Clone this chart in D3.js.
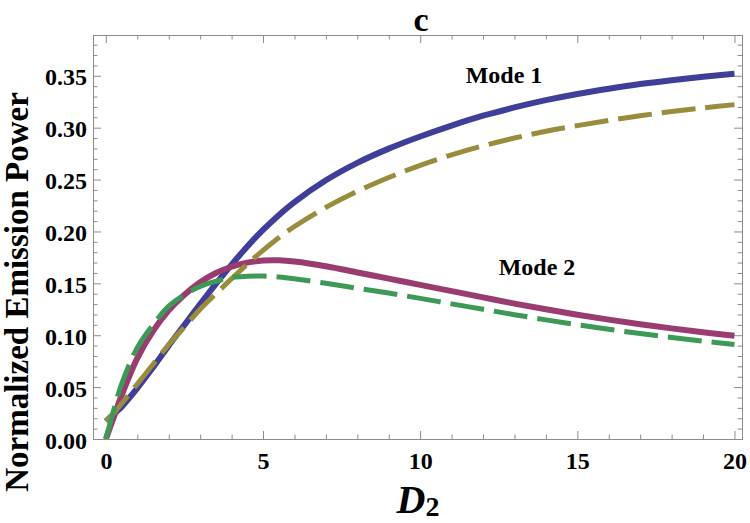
<!DOCTYPE html>
<html>
<head>
<meta charset="utf-8">
<script src="https://cdn.jsdelivr.net/npm/d3@7"></script>
<style>
  body { margin: 0; background: #fff; }
  svg text { font-family: "Liberation Serif", "Times New Roman", serif; font-weight: bold; fill: #000; }
</style>
</head>
<body>
<svg id="chart" width="750" height="523"></svg>
<script>
// D2 grid shared by all curves
const d2 = [0, 0.25, 0.5, 1, 1.5, 2, 2.5, 3, 3.5, 4, 4.5, 5, 5.5, 6, 7, 8, 9, 10, 11, 12, 13, 14, 15, 16, 17, 18, 19, 20];

// Mode 1 (solid) and its dashed companion
const mode1Solid = [0.017, 0.024, 0.031, 0.049, 0.069, 0.090, 0.110, 0.130, 0.1495, 0.168, 0.1856, 0.2015, 0.2157, 0.2283, 0.2493, 0.2661, 0.2798, 0.2915, 0.3020, 0.3115, 0.3195, 0.3265, 0.3325, 0.3375, 0.3420, 0.3457, 0.3490, 0.3520];
const mode1Dashed = [0.017, 0.025, 0.034, 0.053, 0.072, 0.091, 0.108, 0.125, 0.140, 0.1545, 0.1686, 0.1818, 0.1940, 0.2048, 0.2232, 0.2387, 0.2520, 0.2637, 0.2738, 0.2825, 0.2900, 0.2965, 0.3020, 0.3070, 0.3115, 0.3155, 0.3190, 0.3222];

// Mode 2 (solid) and its dashed companion
const mode2Solid = [0, 0.021, 0.042, 0.078, 0.104, 0.124, 0.139, 0.151, 0.160, 0.166, 0.1700, 0.1720, 0.1722, 0.1710, 0.1665, 0.1605, 0.1545, 0.1485, 0.1425, 0.1365, 0.1305, 0.1250, 0.1198, 0.1150, 0.1106, 0.1066, 0.1029, 0.0995];
const mode2Dashed = [0, 0.028, 0.053, 0.088, 0.110, 0.128, 0.139, 0.147, 0.152, 0.1558, 0.1568, 0.1570, 0.1562, 0.1545, 0.1500, 0.1453, 0.1406, 0.1355, 0.1302, 0.1250, 0.1198, 0.1148, 0.1101, 0.1057, 0.1016, 0.0978, 0.0943, 0.0910];

const xMajor = [0, 5, 10, 15, 20];
const yMajor = [0, 0.05, 0.10, 0.15, 0.20, 0.25, 0.30, 0.35];

const svg = d3.select("svg#chart");

const frame = { left: 93, right: 742, top: 35, bottom: 439 };
const w = frame.right - frame.left, h = frame.bottom - frame.top;

var x = d3.scaleLinear().domain([-0.41, 20.24]).range([0, w]);
var y = d3.scaleLinear().domain([0, 0.3893]).range([h, 0]);

const g = svg.append("g").attr("transform", `translate(${frame.left},${frame.top})`);

g.append("clipPath").attr("id", "clip")
  .append("rect").attr("width", w).attr("height", h);

// minor ticks
var xMinor = d3.range(0, 21, 1).filter(d => d % 5 !== 0);
var yMinor = d3.range(1, 39).map(d => d / 100).filter(d => Math.round(d * 100) % 5 !== 0);

function styleAxis(sel) {
  sel.selectAll("path.domain").attr("stroke", "#8c8c8c");
  sel.selectAll(".tick line").attr("stroke", "#8c8c8c");
}

// bottom axis with labels
g.append("g").attr("transform", `translate(0,${h})`)
  .call(d3.axisBottom(x).tickValues(xMajor).tickSize(-8).tickPadding(13).tickFormat(d3.format("d")))
  .call(styleAxis)
  .selectAll("text").attr("font-size", 24).style("font-family", "Liberation Serif").style("font-weight", "bold");
g.append("g").attr("transform", `translate(0,${h})`)
  .call(d3.axisBottom(x).tickValues(xMinor).tickSize(-4.5).tickFormat(""))
  .call(styleAxis);

// top axis ticks only
g.append("g")
  .call(d3.axisTop(x).tickValues(xMajor).tickSize(-8).tickFormat(""))
  .call(styleAxis);
g.append("g")
  .call(d3.axisTop(x).tickValues(xMinor).tickSize(-4.5).tickFormat(""))
  .call(styleAxis);

// left axis with labels
g.append("g")
  .call(d3.axisLeft(y).tickValues(yMajor).tickSize(-8).tickPadding(6).tickFormat(d3.format(".2f")))
  .call(styleAxis)
  .selectAll("text").attr("font-size", 24).attr("dy", "0.38em").style("font-family", "Liberation Serif").style("font-weight", "bold");
g.append("g")
  .call(d3.axisLeft(y).tickValues(yMinor).tickSize(-4.5).tickFormat(""))
  .call(styleAxis);

// right axis ticks only
g.append("g").attr("transform", `translate(${w},0)`)
  .call(d3.axisRight(y).tickValues(yMajor).tickSize(-8).tickFormat(""))
  .call(styleAxis);
g.append("g").attr("transform", `translate(${w},0)`)
  .call(d3.axisRight(y).tickValues(yMinor).tickSize(-4.5).tickFormat(""))
  .call(styleAxis);

// curves: solid ones first, dashed drawn on top
var series = [
  { values: mode1Solid, color: "#3f3f99", dash: null, width: 6 },
  { values: mode2Solid, color: "#993d71", dash: null, width: 6 },
  { values: mode1Dashed, color: "#998c3d", dash: "34,10", width: 5 },
  { values: mode2Dashed, color: "#3d9956", dash: "34,10", width: 5 }
];

var line = d3.line()
  .x((d, i) => x(d2[i]))
  .y(d => y(d))
  .curve(d3.curveCatmullRom.alpha(0.5));

g.append("g").attr("clip-path", "url(#clip)")
  .selectAll("path.curve")
  .data(series)
  .join("path")
  .attr("class", "curve")
  .attr("fill", "none")
  .attr("stroke", d => d.color)
  .attr("stroke-width", d => d.width)
  .attr("stroke-dasharray", d => d.dash)
  .attr("d", d => line(d.values));

// labels
svg.append("text").attr("x", 421).attr("y", 31).attr("text-anchor", "middle")
  .attr("font-size", 34).text("c");

svg.append("text").attr("x", 504).attr("y", 83).attr("text-anchor", "middle")
  .attr("font-size", 24).text("Mode 1");
svg.append("text").attr("x", 537).attr("y", 275).attr("text-anchor", "middle")
  .attr("font-size", 24).text("Mode 2");

svg.append("text")
  .attr("transform", "translate(28,292) rotate(-90)")
  .attr("text-anchor", "middle")
  .attr("font-size", 33)
  .text("Normalized Emission Power");

var xl = svg.append("text").attr("x", 418).attr("y", 513).attr("text-anchor", "middle")
  .attr("font-size", 40).attr("font-style", "italic");
xl.append("tspan").text("D");
xl.append("tspan").attr("font-size", 28).attr("font-style", "normal").attr("dy", 3).text("2");
</script>
</body>
</html>
